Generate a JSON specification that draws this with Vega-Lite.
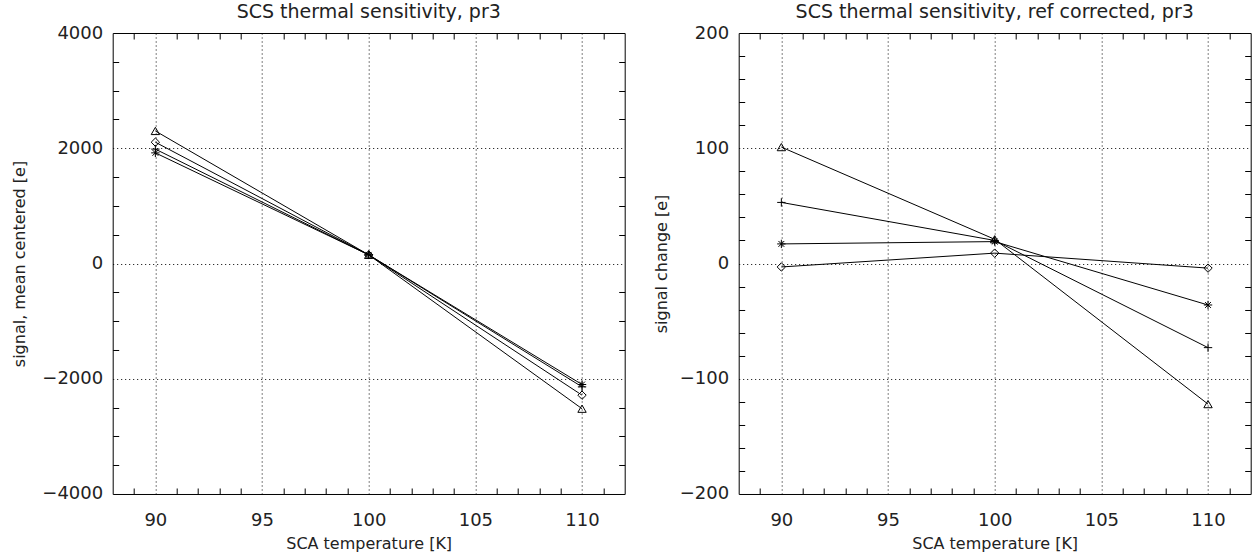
{
  "$schema": "https://vega.github.io/schema/vega-lite/v6.json",
  "background": "white",
  "padding": {"left": 10.7, "top": 2, "right": 0, "bottom": 0},
  "spacing": 27,
  "datasets": {
    "left": [
      {"T": 90, "v": 2300, "s": "tri"},
      {"T": 100, "v": 150, "s": "tri"},
      {"T": 110, "v": -2520, "s": "tri"},
      {"T": 90, "v": 2105, "s": "dia"},
      {"T": 100, "v": 150, "s": "dia"},
      {"T": 110, "v": -2285, "s": "dia"},
      {"T": 90, "v": 1985, "s": "plus"},
      {"T": 100, "v": 150, "s": "plus"},
      {"T": 110, "v": -2140, "s": "plus"},
      {"T": 90, "v": 1920, "s": "ast"},
      {"T": 100, "v": 150, "s": "ast"},
      {"T": 110, "v": -2100, "s": "ast"}
    ],
    "right": [
      {"T": 90, "v": 101, "s": "tri"},
      {"T": 100, "v": 21, "s": "tri"},
      {"T": 110, "v": -122, "s": "tri"},
      {"T": 90, "v": 53, "s": "plus"},
      {"T": 100, "v": 20, "s": "plus"},
      {"T": 110, "v": -73, "s": "plus"},
      {"T": 90, "v": 17, "s": "ast"},
      {"T": 100, "v": 19, "s": "ast"},
      {"T": 110, "v": -36, "s": "ast"},
      {"T": 90, "v": -3, "s": "dia"},
      {"T": 100, "v": 9, "s": "dia"},
      {"T": 110, "v": -4, "s": "dia"}
    ]
  },
  "hconcat": [
    {
      "width": 512,
      "height": 461,
      "title": "SCS thermal sensitivity, pr3",
      "data": {"name": "left"},
      "layer": [
        {
          "mark": {"type": "line", "color": "#000", "strokeWidth": 1},
          "encoding": {
            "x": {"field": "T", "type": "quantitative",
              "scale": {"domain": [88, 112], "nice": false, "zero": false},
              "axis": {"orient": "bottom", "title": "SCA temperature [K]",
                "values": [88,89,90,91,92,93,94,95,96,97,98,99,100,101,102,103,104,105,106,107,108,109,110,111,112],
                "format": "d",
                "labelExpr": "datum.value % 5 === 0 ? datum.label : ''",
                "gridOpacity": {"condition": {"test": "datum.value % 5 === 0", "value": 1}, "value": 0},
                "tickOpacity": {"condition": {"test": "datum.value % 5 === 0 || datum.value === 88 || datum.value === 112", "value": 0}, "value": 1}}},
            "y": {"field": "v", "type": "quantitative",
              "scale": {"domain": [-4000, 4000], "nice": false, "zero": false},
              "axis": {"orient": "left", "title": "signal, mean centered [e]", "titlePadding": 14,
                "values": [-4000,-3500,-3000,-2500,-2000,-1500,-1000,-500,0,500,1000,1500,2000,2500,3000,3500,4000],
                "format": "d",
                "labelExpr": "datum.value % 2000 === 0 ? datum.label : ''",
                "gridOpacity": {"condition": {"test": "datum.value % 2000 === 0 && abs(datum.value) < 4000", "value": 1}, "value": 0},
                "tickOpacity": {"condition": {"test": "datum.value % 2000 === 0", "value": 0}, "value": 1}}},
            "detail": {"field": "s", "type": "nominal"}
          }
        },
        {
          "mark": {"type": "point", "filled": false, "stroke": "#000", "strokeWidth": 1, "size": 70, "opacity": 1},
          "encoding": {
            "x": {"field": "T", "type": "quantitative",
              "axis": {"orient": "top", "title": null, "labels": false, "grid": false,
                "values": [88,89,90,91,92,93,94,95,96,97,98,99,100,101,102,103,104,105,106,107,108,109,110,111,112],
                "tickOpacity": {"condition": {"test": "datum.value % 5 === 0 || datum.value === 88 || datum.value === 112", "value": 0}, "value": 1}}},
            "y": {"field": "v", "type": "quantitative",
              "axis": {"orient": "right", "title": null, "labels": false, "grid": false,
                "values": [-4000,-3500,-3000,-2500,-2000,-1500,-1000,-500,0,500,1000,1500,2000,2500,3000,3500,4000],
                "tickOpacity": {"condition": {"test": "datum.value % 2000 === 0", "value": 0}, "value": 1}}},
            "shape": {"field": "s", "type": "nominal", "legend": null,
              "scale": {"domain": ["tri", "dia", "plus", "ast"],
                "range": ["triangle-up", "diamond", "M-1,0L1,0M0,-1L0,1", "M-1,0L1,0M0,-1L0,1M-0.7,-0.7L0.7,0.7M-0.7,0.7L0.7,-0.7"]}}
          }
        }
      ],
      "resolve": {"axis": {"x": "independent", "y": "independent"}}
    },
    {
      "width": 512,
      "height": 461,
      "title": "SCS thermal sensitivity, ref corrected, pr3",
      "data": {"name": "right"},
      "layer": [
        {
          "mark": {"type": "line", "color": "#000", "strokeWidth": 1},
          "encoding": {
            "x": {"field": "T", "type": "quantitative",
              "scale": {"domain": [88, 112], "nice": false, "zero": false},
              "axis": {"orient": "bottom", "title": "SCA temperature [K]",
                "values": [88,89,90,91,92,93,94,95,96,97,98,99,100,101,102,103,104,105,106,107,108,109,110,111,112],
                "format": "d",
                "labelExpr": "datum.value % 5 === 0 ? datum.label : ''",
                "gridOpacity": {"condition": {"test": "datum.value % 5 === 0", "value": 1}, "value": 0},
                "tickOpacity": {"condition": {"test": "datum.value % 5 === 0 || datum.value === 88 || datum.value === 112", "value": 0}, "value": 1}}},
            "y": {"field": "v", "type": "quantitative",
              "scale": {"domain": [-200, 200], "nice": false, "zero": false},
              "axis": {"orient": "left", "title": "signal change [e]", "titlePadding": 10,
                "values": [-200,-180,-160,-140,-120,-100,-80,-60,-40,-20,0,20,40,60,80,100,120,140,160,180,200],
                "format": "d",
                "labelExpr": "datum.value % 100 === 0 ? datum.label : ''",
                "gridOpacity": {"condition": {"test": "datum.value % 100 === 0 && abs(datum.value) < 200", "value": 1}, "value": 0},
                "tickOpacity": {"condition": {"test": "datum.value % 100 === 0", "value": 0}, "value": 1}}},
            "detail": {"field": "s", "type": "nominal"}
          }
        },
        {
          "mark": {"type": "point", "filled": false, "stroke": "#000", "strokeWidth": 1, "size": 70, "opacity": 1},
          "encoding": {
            "x": {"field": "T", "type": "quantitative",
              "axis": {"orient": "top", "title": null, "labels": false, "grid": false,
                "values": [88,89,90,91,92,93,94,95,96,97,98,99,100,101,102,103,104,105,106,107,108,109,110,111,112],
                "tickOpacity": {"condition": {"test": "datum.value % 5 === 0 || datum.value === 88 || datum.value === 112", "value": 0}, "value": 1}}},
            "y": {"field": "v", "type": "quantitative",
              "axis": {"orient": "right", "title": null, "labels": false, "grid": false,
                "values": [-200,-180,-160,-140,-120,-100,-80,-60,-40,-20,0,20,40,60,80,100,120,140,160,180,200],
                "tickOpacity": {"condition": {"test": "datum.value % 100 === 0", "value": 0}, "value": 1}}},
            "shape": {"field": "s", "type": "nominal", "legend": null,
              "scale": {"domain": ["tri", "dia", "plus", "ast"],
                "range": ["triangle-up", "diamond", "M-1,0L1,0M0,-1L0,1", "M-1,0L1,0M0,-1L0,1M-0.7,-0.7L0.7,0.7M-0.7,0.7L0.7,-0.7"]}}
          }
        }
      ],
      "resolve": {"axis": {"x": "independent", "y": "independent"}}
    }
  ],
  "config": {
    "font": "DejaVu Sans",
    "view": {"stroke": "#000", "strokeWidth": 1},
    "axis": {
      "domain": false,
      "labelFont": "DejaVu Sans", "labelFontSize": 18, "labelColor": "#222",
      "labelOverlap": false, "labelFlush": false,
      "titleFont": "DejaVu Sans", "titleFontSize": 16, "titleFontWeight": "normal", "titleColor": "#222",
      "tickColor": "#000", "tickSize": -6, "tickWidth": 1,
      "gridColor": "#000", "gridDash": [1, 3], "gridWidth": 1
    },
    "axisX": {"labelPadding": 24, "titlePadding": 6},
    "axisY": {"labelPadding": 16},
    "title": {"fontSize": 19, "fontWeight": "normal", "font": "DejaVu Sans", "color": "#222", "offset": 2}
  }
}
